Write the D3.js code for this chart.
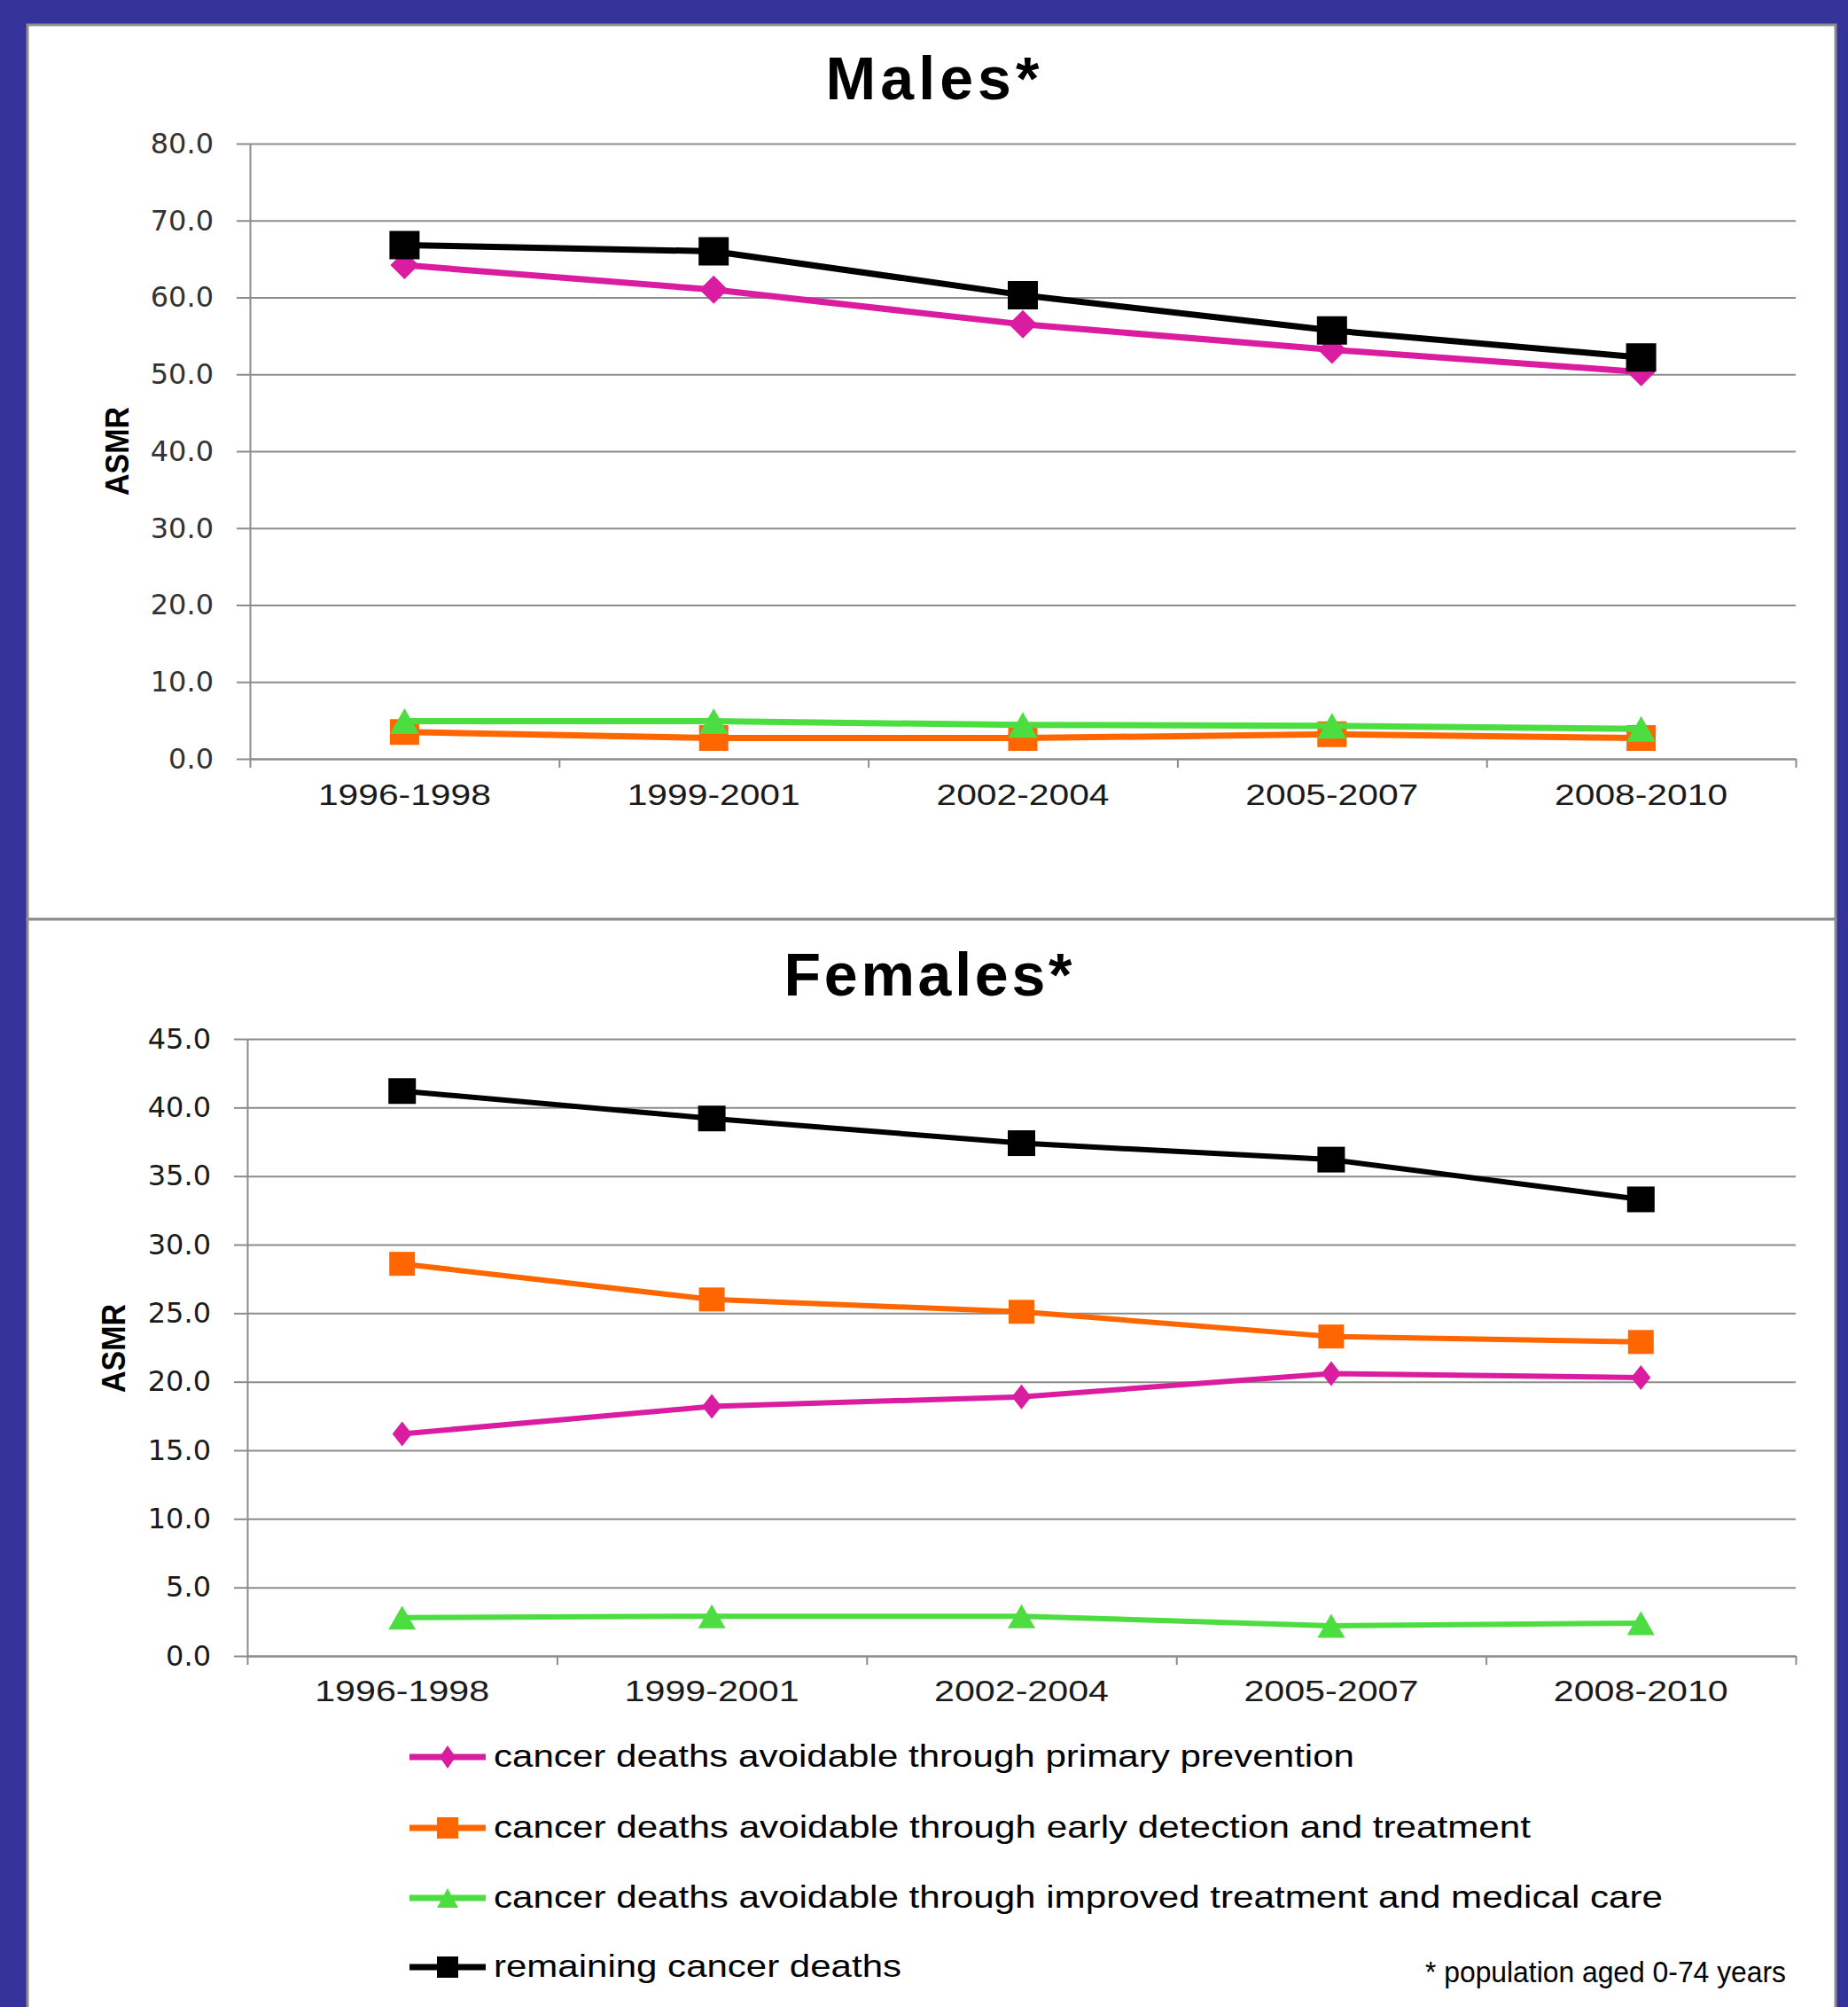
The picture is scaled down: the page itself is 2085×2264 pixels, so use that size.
<!DOCTYPE html>
<html>
<head>
<meta charset="utf-8">
<script src="https://cdn.jsdelivr.net/npm/d3@7/dist/d3.min.js"></script>
<style>
body { margin: 0; background: #333399; }
svg { display: block; }
</style>
</head>
<body>
<div id="chart"></div>
<script>
'use strict';

// ---- data ----
var categories = ['1996-1998', '1999-2001', '2002-2004', '2005-2007', '2008-2010'];

var seriesNames = [
    'cancer deaths avoidable through primary prevention',
    'cancer deaths avoidable through early detection and treatment',
    'cancer deaths avoidable through improved treatment and medical care',
    'remaining cancer deaths'
];

var malesPrimary   = [64.2, 61.0, 56.5, 53.2, 50.3];
var malesEarly     = [3.5, 2.7, 2.7, 3.2, 2.7];
var malesImproved  = [4.9, 4.9, 4.4, 4.3, 3.9];
var malesRemaining = [66.8, 66.0, 60.3, 55.7, 52.2];

var femalesPrimary   = [16.2, 18.2, 18.9, 20.6, 20.3];
var femalesEarly     = [28.6, 26.0, 25.1, 23.3, 22.9];
var femalesImproved  = [2.8, 2.9, 2.9, 2.2, 2.4];
var femalesRemaining = [41.2, 39.2, 37.4, 36.2, 33.3];

var malesTicks   = [0, 10, 20, 30, 40, 50, 60, 70, 80];
var femalesTicks = [0, 5, 10, 15, 20, 25, 30, 35, 40, 45];

var footnote = '* population aged 0-74 years';

// ---- drawing ----
var grafico = {};

grafico.width = 2085;
grafico.height = 2264;
grafico.colors = ['#d91ca0', '#ff6600', '#4cdd40', '#000000'];
grafico.shapes = ['diamond', 'square', 'triangle', 'square'];
grafico.gridColor = '#8c8c8c';

grafico.markerPath = function (shape, cx, cy, w, h)
{
    var hw = w / 2, hh = h / 2;
    if (shape == 'diamond') {
        return 'M' + cx + ',' + (cy - hh) + 'L' + (cx + hw) + ',' + cy +
               'L' + cx + ',' + (cy + hh) + 'L' + (cx - hw) + ',' + cy + 'Z';
    }
    if (shape == 'triangle') {
        return 'M' + cx + ',' + (cy - hh) + 'L' + (cx + hw) + ',' + (cy + hh) +
               'L' + (cx - hw) + ',' + (cy + hh) + 'Z';
    }
    return 'M' + (cx - hw) + ',' + (cy - hh) + 'h' + w + 'v' + h + 'h' + (-w) + 'Z';
}

grafico.appendSvg = function (div)
{
    var svg = d3.select(div).append('svg')
        .attr('width', grafico.width)
        .attr('height', grafico.height);
    svg.append('rect')
        .attr('width', grafico.width).attr('height', grafico.height)
        .attr('fill', '#333399');
    return svg;
}

grafico.appendPanel = function (svg, y, h)
{
    svg.append('rect')
        .attr('x', 31).attr('y', y)
        .attr('width', 2040).attr('height', h)
        .attr('fill', '#ffffff')
        .attr('stroke', '#8c8c8c')
        .attr('stroke-width', 3);
}

grafico.drawChart = function (svg, cfg)
{
    var xScale = d3.scaleBand().domain(categories).range([cfg.left, cfg.right]);
    var xEdges = d3.scaleLinear().domain([0, categories.length]).range([cfg.left, cfg.right]);
    var yScale = d3.scaleLinear().domain([0, cfg.max]).range([cfg.bottom, cfg.top]);
    var bw = xScale.bandwidth();

    // gridlines
    var grid = svg.append('g')
        .attr('transform', 'translate(' + cfg.left + ',0)')
        .call(d3.axisLeft(yScale).tickValues(cfg.ticks).tickSize(-(cfg.right - cfg.left)).tickFormat(''));
    grid.select('.domain').remove();
    grid.selectAll('line').attr('stroke', grafico.gridColor).attr('stroke-width', 2);

    // y axis
    var yAxisGroup = svg.append('g')
        .attr('class', 'yAxis')
        .attr('transform', 'translate(' + cfg.left + ',0)')
        .call(d3.axisLeft(yScale).tickValues(cfg.ticks).tickSize(15).tickSizeOuter(0)
            .tickPadding(26).tickFormat(d3.format('.1f')));
    yAxisGroup.selectAll('line').attr('stroke', grafico.gridColor).attr('stroke-width', 2);
    yAxisGroup.select('.domain').attr('stroke', grafico.gridColor).attr('stroke-width', 2);
    yAxisGroup.selectAll('text')
        .attr('font-family', 'DejaVu Sans, Verdana, sans-serif')
        .attr('font-size', 32)
        .attr('fill', cfg.yLabelColor);

    // x axis: ticks on category edges
    var xAxisGroup = svg.append('g')
        .attr('class', 'xAxis')
        .attr('transform', 'translate(0,' + cfg.bottom + ')')
        .call(d3.axisBottom(xEdges).tickValues(d3.range(categories.length + 1))
            .tickSize(10).tickSizeOuter(0).tickFormat(''));
    xAxisGroup.selectAll('line').attr('stroke', grafico.gridColor).attr('stroke-width', 2);
    xAxisGroup.select('.domain').attr('stroke', grafico.gridColor).attr('stroke-width', 2);

    svg.append('g').selectAll('text')
        .data(categories)
        .enter()
        .append('text')
        .attr('x', function (d) { return xScale(d) + bw / 2; })
        .attr('y', cfg.xLabelY)
        .attr('text-anchor', 'middle')
        .attr('font-family', 'Liberation Sans, Arial, sans-serif')
        .attr('font-size', cfg.xLabelSize)
        .attr('textLength', cfg.xLabelWidth)
        .attr('lengthAdjust', 'spacingAndGlyphs')
        .attr('fill', '#1a1a1a')
        .text(function (d) { return d; });

    // title
    svg.append('text')
        .attr('x', cfg.titleX)
        .attr('y', cfg.titleY)
        .attr('text-anchor', 'middle')
        .attr('font-family', 'Liberation Sans, Arial, sans-serif')
        .attr('font-weight', 'bold')
        .attr('font-size', 68)
        .attr('textLength', cfg.titleWidth)
        .attr('lengthAdjust', 'spacing')
        .text(cfg.title);

    // y label
    svg.append('text')
        .attr('transform', 'translate(' + cfg.ylabX + ',' + cfg.ylabY + ') rotate(-90)')
        .attr('text-anchor', 'middle')
        .attr('font-family', 'Liberation Sans, Arial, sans-serif')
        .attr('font-weight', 'bold')
        .attr('font-size', 37)
        .attr('textLength', 100)
        .attr('lengthAdjust', 'spacingAndGlyphs')
        .text('ASMR');

    // series
    var line = d3.line()
        .x(function (d, i) { return xScale(categories[i]) + bw / 2; })
        .y(function (d) { return yScale(d); });

    cfg.series.forEach(function (values, s) {
        svg.append('path')
            .attr('d', line(values))
            .attr('fill', 'none')
            .attr('stroke', grafico.colors[s])
            .attr('stroke-width', cfg.lineWidth)
            .attr('stroke-linejoin', 'round');
        var size = cfg.markers[s];
        svg.append('g').selectAll('path')
            .data(values)
            .enter()
            .append('path')
            .attr('d', function (d, i) {
                return grafico.markerPath(grafico.shapes[s], xScale(categories[i]) + bw / 2, yScale(d), size[0], size[1]);
            })
            .attr('fill', grafico.colors[s]);
    });
}

grafico.appendLegend = function (svg)
{
    var rowsY = [1982, 2062, 2141, 2219];
    var widths = [971, 1170, 1319, 460];
    var sizes = [[18, 26], [24, 24], [24, 22], [24, 24]];
    var g = svg.append('g').attr('class', 'legendGroup');
    seriesNames.forEach(function (name, s) {
        g.append('line')
            .attr('x1', 462).attr('x2', 548)
            .attr('y1', rowsY[s]).attr('y2', rowsY[s])
            .attr('stroke', grafico.colors[s])
            .attr('stroke-width', 7);
        g.append('path')
            .attr('d', grafico.markerPath(grafico.shapes[s], 505, rowsY[s], sizes[s][0], sizes[s][1]))
            .attr('fill', grafico.colors[s]);
        g.append('text')
            .attr('x', 557)
            .attr('y', rowsY[s] + 11)
            .attr('font-family', 'Liberation Sans, Arial, sans-serif')
            .attr('font-size', 35)
            .attr('textLength', widths[s])
            .attr('lengthAdjust', 'spacingAndGlyphs')
            .text(name);
    });
    svg.append('text')
        .attr('x', 1608)
        .attr('y', 2236)
        .attr('font-family', 'Liberation Sans, Arial, sans-serif')
        .attr('font-size', 33)
        .attr('textLength', 407)
        .attr('lengthAdjust', 'spacingAndGlyphs')
        .text(footnote);
}

var svg = grafico.appendSvg('#chart');
grafico.appendPanel(svg, 28, 1009);
grafico.appendPanel(svg, 1037, 1260);

grafico.drawChart(svg, {
    title: 'Males*', titleX: 1052, titleY: 112, titleWidth: 241,
    left: 282, right: 2026, top: 162, bottom: 856, max: 80, ticks: malesTicks,
    yLabelColor: '#333333', xLabelY: 908, xLabelSize: 33, xLabelWidth: 195,
    ylabX: 145, ylabY: 509, lineWidth: 7,
    series: [malesPrimary, malesEarly, malesImproved, malesRemaining],
    markers: [[32, 32], [33, 29], [33, 29], [34, 32]]
});

grafico.drawChart(svg, {
    title: 'Females*', titleX: 1047, titleY: 1123, titleWidth: 325,
    left: 279, right: 2026, top: 1172, bottom: 1868, max: 45, ticks: femalesTicks,
    yLabelColor: '#1a1a1a', xLabelY: 1919, xLabelSize: 34, xLabelWidth: 197,
    ylabX: 141, ylabY: 1521, lineWidth: 6,
    series: [femalesPrimary, femalesEarly, femalesImproved, femalesRemaining],
    markers: [[22, 28], [29, 27], [31, 27], [31, 29]]
});

grafico.appendLegend(svg);
</script>
</body>
</html>
